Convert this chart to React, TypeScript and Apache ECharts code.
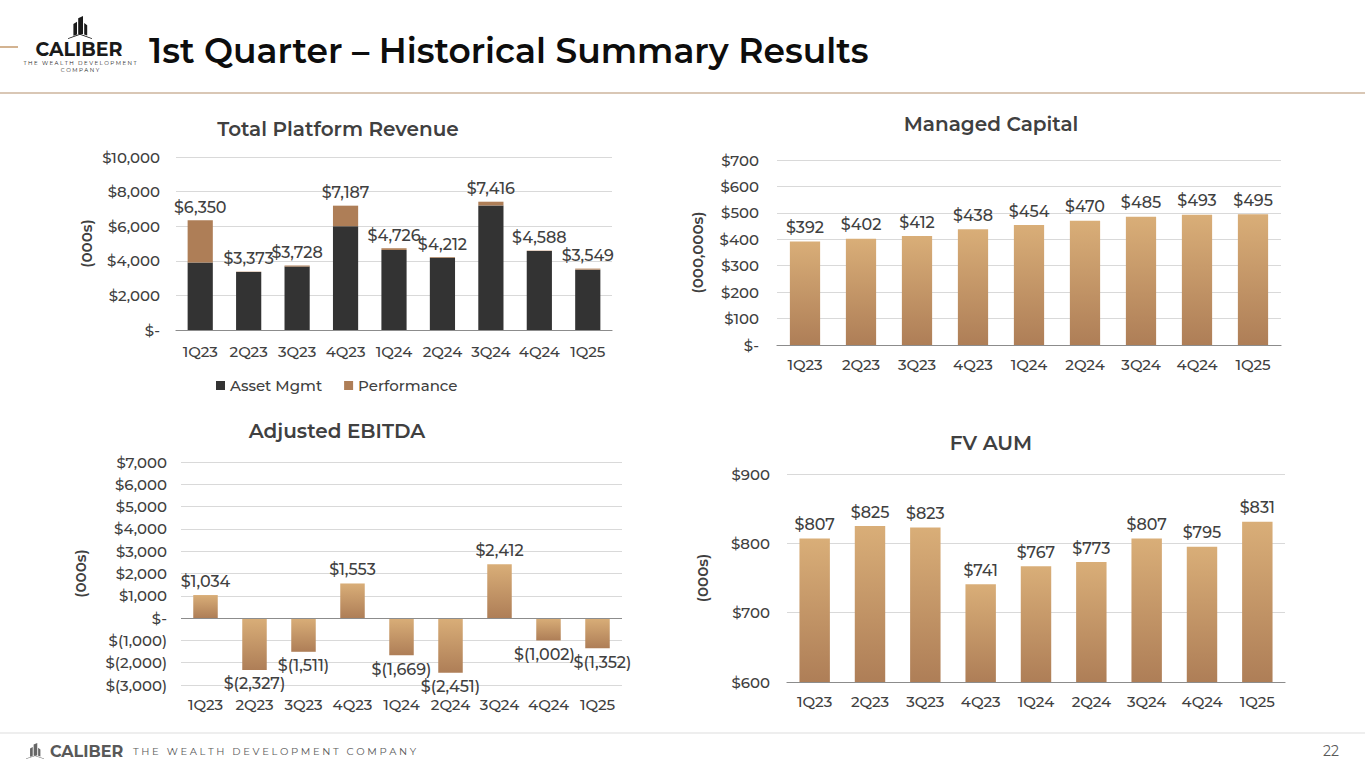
import React, { useEffect, useRef } from 'react';
import * as echarts from 'echarts';

const quarters = ['1Q23', '2Q23', '3Q23', '4Q23', '1Q24', '2Q24', '3Q24', '4Q24', '1Q25'];
const revenueTotal = [6350, 3373, 3728, 7187, 4726, 4212, 7416, 4588, 3549];
const assetMgmt = [3900, 3353, 3668, 6000, 4626, 4172, 7200, 4568, 3489];
const performance = [2450, 20, 60, 1187, 100, 40, 216, 20, 60];
const managedCapital = [392, 402, 412, 438, 454, 470, 485, 493, 495];
const adjustedEbitda = [1034, -2327, -1511, 1553, -1669, -2451, 2412, -1002, -1352];
const fvAum = [807, 825, 823, 741, 767, 773, 807, 795, 831];

const FONT = 'Montserrat, "Open Sans", sans-serif';
const TXT = '#404040';

const money = (v: number) => {
  if (v === 0) return '$-';
  const s = Math.abs(v).toLocaleString('en-US');
  return v < 0 ? '$(' + s + ')' : '$' + s;
};

const gold = () =>
  new echarts.graphic.LinearGradient(0, 0, 0, 1, [
    { offset: 0, color: '#D9AE78' },
    { offset: 1, color: '#AE7E57' },
  ]);

const ICON = 'M0 19.3 L10 15.5 L20 19.3 L20 20 L10 16.4 L0 20 Z M4.5 17.2 L4.5 7 L7.5 5 L7.5 16 Z M8.5 15.6 L8.5 2 L12.5 0 L12.5 15.6 Z M13.5 16 L13.5 6 L16 8 L16 17 Z';
let registered = false;

export default function App() {
  const ref = useRef<HTMLDivElement>(null);
  useEffect(() => {
    if (!registered) {
      echarts.graphic.registerShape('logo', echarts.graphic.extendPath(ICON, {}));
      registered = true;
    }
    const chart = echarts.init(ref.current!, null, { renderer: 'svg' });
    const axisLabel = { color: TXT, fontSize: 15, fontWeight: 500, fontFamily: FONT };
    const splitLine = { show: true, lineStyle: { color: '#D9D9D9', width: 1 } };
    const axisLine = { show: true, lineStyle: { color: '#8C8C8C', width: 1.2 } };
    const yName = (gap: number) => ({
      name: '(000s)',
      nameLocation: 'middle',
      nameRotate: 90,
      nameGap: gap,
      nameTextStyle: { color: TXT, fontSize: 15, fontFamily: FONT, fontWeight: 600 },
    });
    const dataLabel = { color: TXT, fontSize: 16, fontWeight: 500, fontFamily: FONT };
    const titleFont = '600 20px ' + FONT;
    const ebitdaOffsets: Record<number, number[]> = { 7: [-4, 0], 8: [5, 0] };

    const option: any = {
      animation: false,
      backgroundColor: '#ffffff',
      textStyle: { fontFamily: FONT },
      grid: [
        { left: 176, right: 1365 - 612, top: 157, bottom: 768 - 330 },
        { left: 777, right: 1365 - 1281, top: 160, bottom: 768 - 345 },
        { left: 181, right: 1365 - 622, top: 462, bottom: 768 - 685 },
        { left: 787, right: 1365 - 1285, top: 474, bottom: 768 - 682 },
      ],
      legend: [
        {
          data: ['Asset Mgmt', 'Performance'],
          left: 211,
          top: 373,
          itemWidth: 9,
          itemHeight: 9,
          itemGap: 22,
          icon: 'rect',
          textStyle: { color: TXT, fontSize: 15, fontWeight: 500, fontFamily: FONT },
        },
      ],
      xAxis: [0, 1, 2, 3].map((i) => ({
        type: 'category',
        gridIndex: i,
        data: quarters,
        axisTick: { show: false },
        axisLine: i === 2 ? { show: false } : axisLine,
        axisLabel: { ...axisLabel, margin: i === 0 ? 14 : 12, interval: 0 },
      })),
      yAxis: [
        {
          type: 'value', gridIndex: 0, min: 0, max: 10000, interval: 2000,
          axisLabel: { ...axisLabel, formatter: money, margin: 16 }, splitLine,
          axisLine: { show: false }, axisTick: { show: false }, ...yName(82),
        },
        {
          type: 'value', gridIndex: 1, min: 0, max: 700, interval: 100,
          axisLabel: { ...axisLabel, formatter: money, margin: 18 }, splitLine,
          axisLine: { show: false }, axisTick: { show: false }, ...yName(72), name: '(000,000s)',
        },
        {
          type: 'value', gridIndex: 2, min: -3000, max: 7000, interval: 1000,
          axisLabel: { ...axisLabel, formatter: money, margin: 14 }, splitLine,
          axisLine: { show: false }, axisTick: { show: false }, ...yName(93),
        },
        {
          type: 'value', gridIndex: 3, min: 600, max: 900, interval: 100,
          axisLabel: { ...axisLabel, formatter: money, margin: 17 }, splitLine,
          axisLine: { show: false }, axisTick: { show: false }, ...yName(77),
        },
      ],
      series: [
        {
          name: 'Asset Mgmt', type: 'bar', stack: 'rev', xAxisIndex: 0, yAxisIndex: 0,
          data: assetMgmt, barWidth: '52%', itemStyle: { color: '#333333' },
        },
        {
          name: 'Performance', type: 'bar', stack: 'rev', xAxisIndex: 0, yAxisIndex: 0,
          data: performance, barWidth: '52%', itemStyle: { color: '#AE7E57' },
          label: {
            show: true, position: 'top', distance: 5, ...dataLabel,
            formatter: (p: any) => money(revenueTotal[p.dataIndex]),
          },
        },
        {
          name: 'Managed Capital', type: 'bar', xAxisIndex: 1, yAxisIndex: 1,
          data: managedCapital, barWidth: '54%', itemStyle: { color: gold() },
          label: { show: true, position: 'top', distance: 6, ...dataLabel, formatter: (p: any) => money(p.value) },
        },
        {
          name: 'Adjusted EBITDA', type: 'bar', xAxisIndex: 2, yAxisIndex: 2,
          data: adjustedEbitda.map((v, i) => ({
            value: v,
            label: { position: v < 0 ? 'bottom' : 'top', offset: ebitdaOffsets[i] || [0, 0] },
          })),
          barWidth: '50%', itemStyle: { color: gold() },
          label: { show: true, distance: 6, ...dataLabel, formatter: (p: any) => money(p.value) },
          markLine: {
            silent: true, symbol: 'none', animation: false,
            data: [{ yAxis: 0 }],
            lineStyle: { color: '#8C8C8C', type: 'solid', width: 1.2 },
            label: { show: false },
          },
        },
        {
          name: 'FV AUM', type: 'bar', xAxisIndex: 3, yAxisIndex: 3,
          data: fvAum, barWidth: '55%', itemStyle: { color: gold() },
          label: { show: true, position: 'top', distance: 6, ...dataLabel, formatter: (p: any) => money(p.value) },
        },
      ],
      graphic: [
        { type: 'line', shape: { x1: 0, y1: 47, x2: 18, y2: 47 }, style: { stroke: '#C49A6C', lineWidth: 1.5 } },
        { type: 'logo', x: 68, y: 16, scaleX: 1.2, scaleY: 1.15, style: { fill: '#1a1a1a' } },
        { type: 'text', x: 79, y: 49, style: { text: 'CALIBER', font: 'bold 19px ' + FONT, fill: '#1a1a1a', align: 'center', verticalAlign: 'middle' } },
        { type: 'text', x: 80, y: 62.5, style: { text: 'T H E   W E A L T H   D E V E L O P M E N T', font: '5.5px ' + FONT, fill: '#1a1a1a', align: 'center', verticalAlign: 'middle' } },
        { type: 'text', x: 80, y: 69.5, style: { text: 'C O M P A N Y', font: '5.5px ' + FONT, fill: '#1a1a1a', align: 'center', verticalAlign: 'middle' } },
        { type: 'text', x: 149, y: 51, style: { text: '1st Quarter – Historical Summary Results', font: '600 34.5px ' + FONT, fill: '#0d0d0d', align: 'left', verticalAlign: 'middle' } },
        { type: 'line', shape: { x1: 0, y1: 93, x2: 1365, y2: 93 }, style: { stroke: '#CDB59C', lineWidth: 1.5 } },
        { type: 'text', x: 338, y: 129, style: { text: 'Total Platform Revenue', font: titleFont, fill: TXT, align: 'center', verticalAlign: 'middle' } },
        { type: 'text', x: 991, y: 124, style: { text: 'Managed Capital', font: titleFont, fill: TXT, align: 'center', verticalAlign: 'middle' } },
        { type: 'text', x: 337, y: 431, style: { text: 'Adjusted EBITDA', font: titleFont, fill: TXT, align: 'center', verticalAlign: 'middle' } },
        { type: 'text', x: 991, y: 443, style: { text: 'FV AUM', font: titleFont, fill: TXT, align: 'center', verticalAlign: 'middle' } },
        { type: 'line', shape: { x1: 0, y1: 733, x2: 1365, y2: 733 }, style: { stroke: '#DDDDDD', lineWidth: 1 } },
        { type: 'logo', x: 26, y: 743, scaleX: 0.9, scaleY: 0.8, style: { fill: '#666666' } },
        { type: 'text', x: 50, y: 751, style: { text: 'CALIBER', font: 'bold 16px ' + FONT, fill: '#595959', align: 'left', verticalAlign: 'middle' } },
        { type: 'text', x: 133, y: 751, style: { text: 'T H E   W E A L T H   D E V E L O P M E N T   C O M P A N Y', font: '10px ' + FONT, fill: '#595959', align: 'left', verticalAlign: 'middle' } },
        { type: 'text', x: 1331, y: 751, style: { text: '22', font: '14px ' + FONT, fill: '#595959', align: 'center', verticalAlign: 'middle' } },
      ],
    };
    chart.setOption(option);
    return () => chart.dispose();
  }, []);
  return (
    <div
      ref={ref}
      style={{ position: 'fixed', left: 0, top: 0, width: 1365, height: 768, background: '#fff' }}
    />
  );
}
